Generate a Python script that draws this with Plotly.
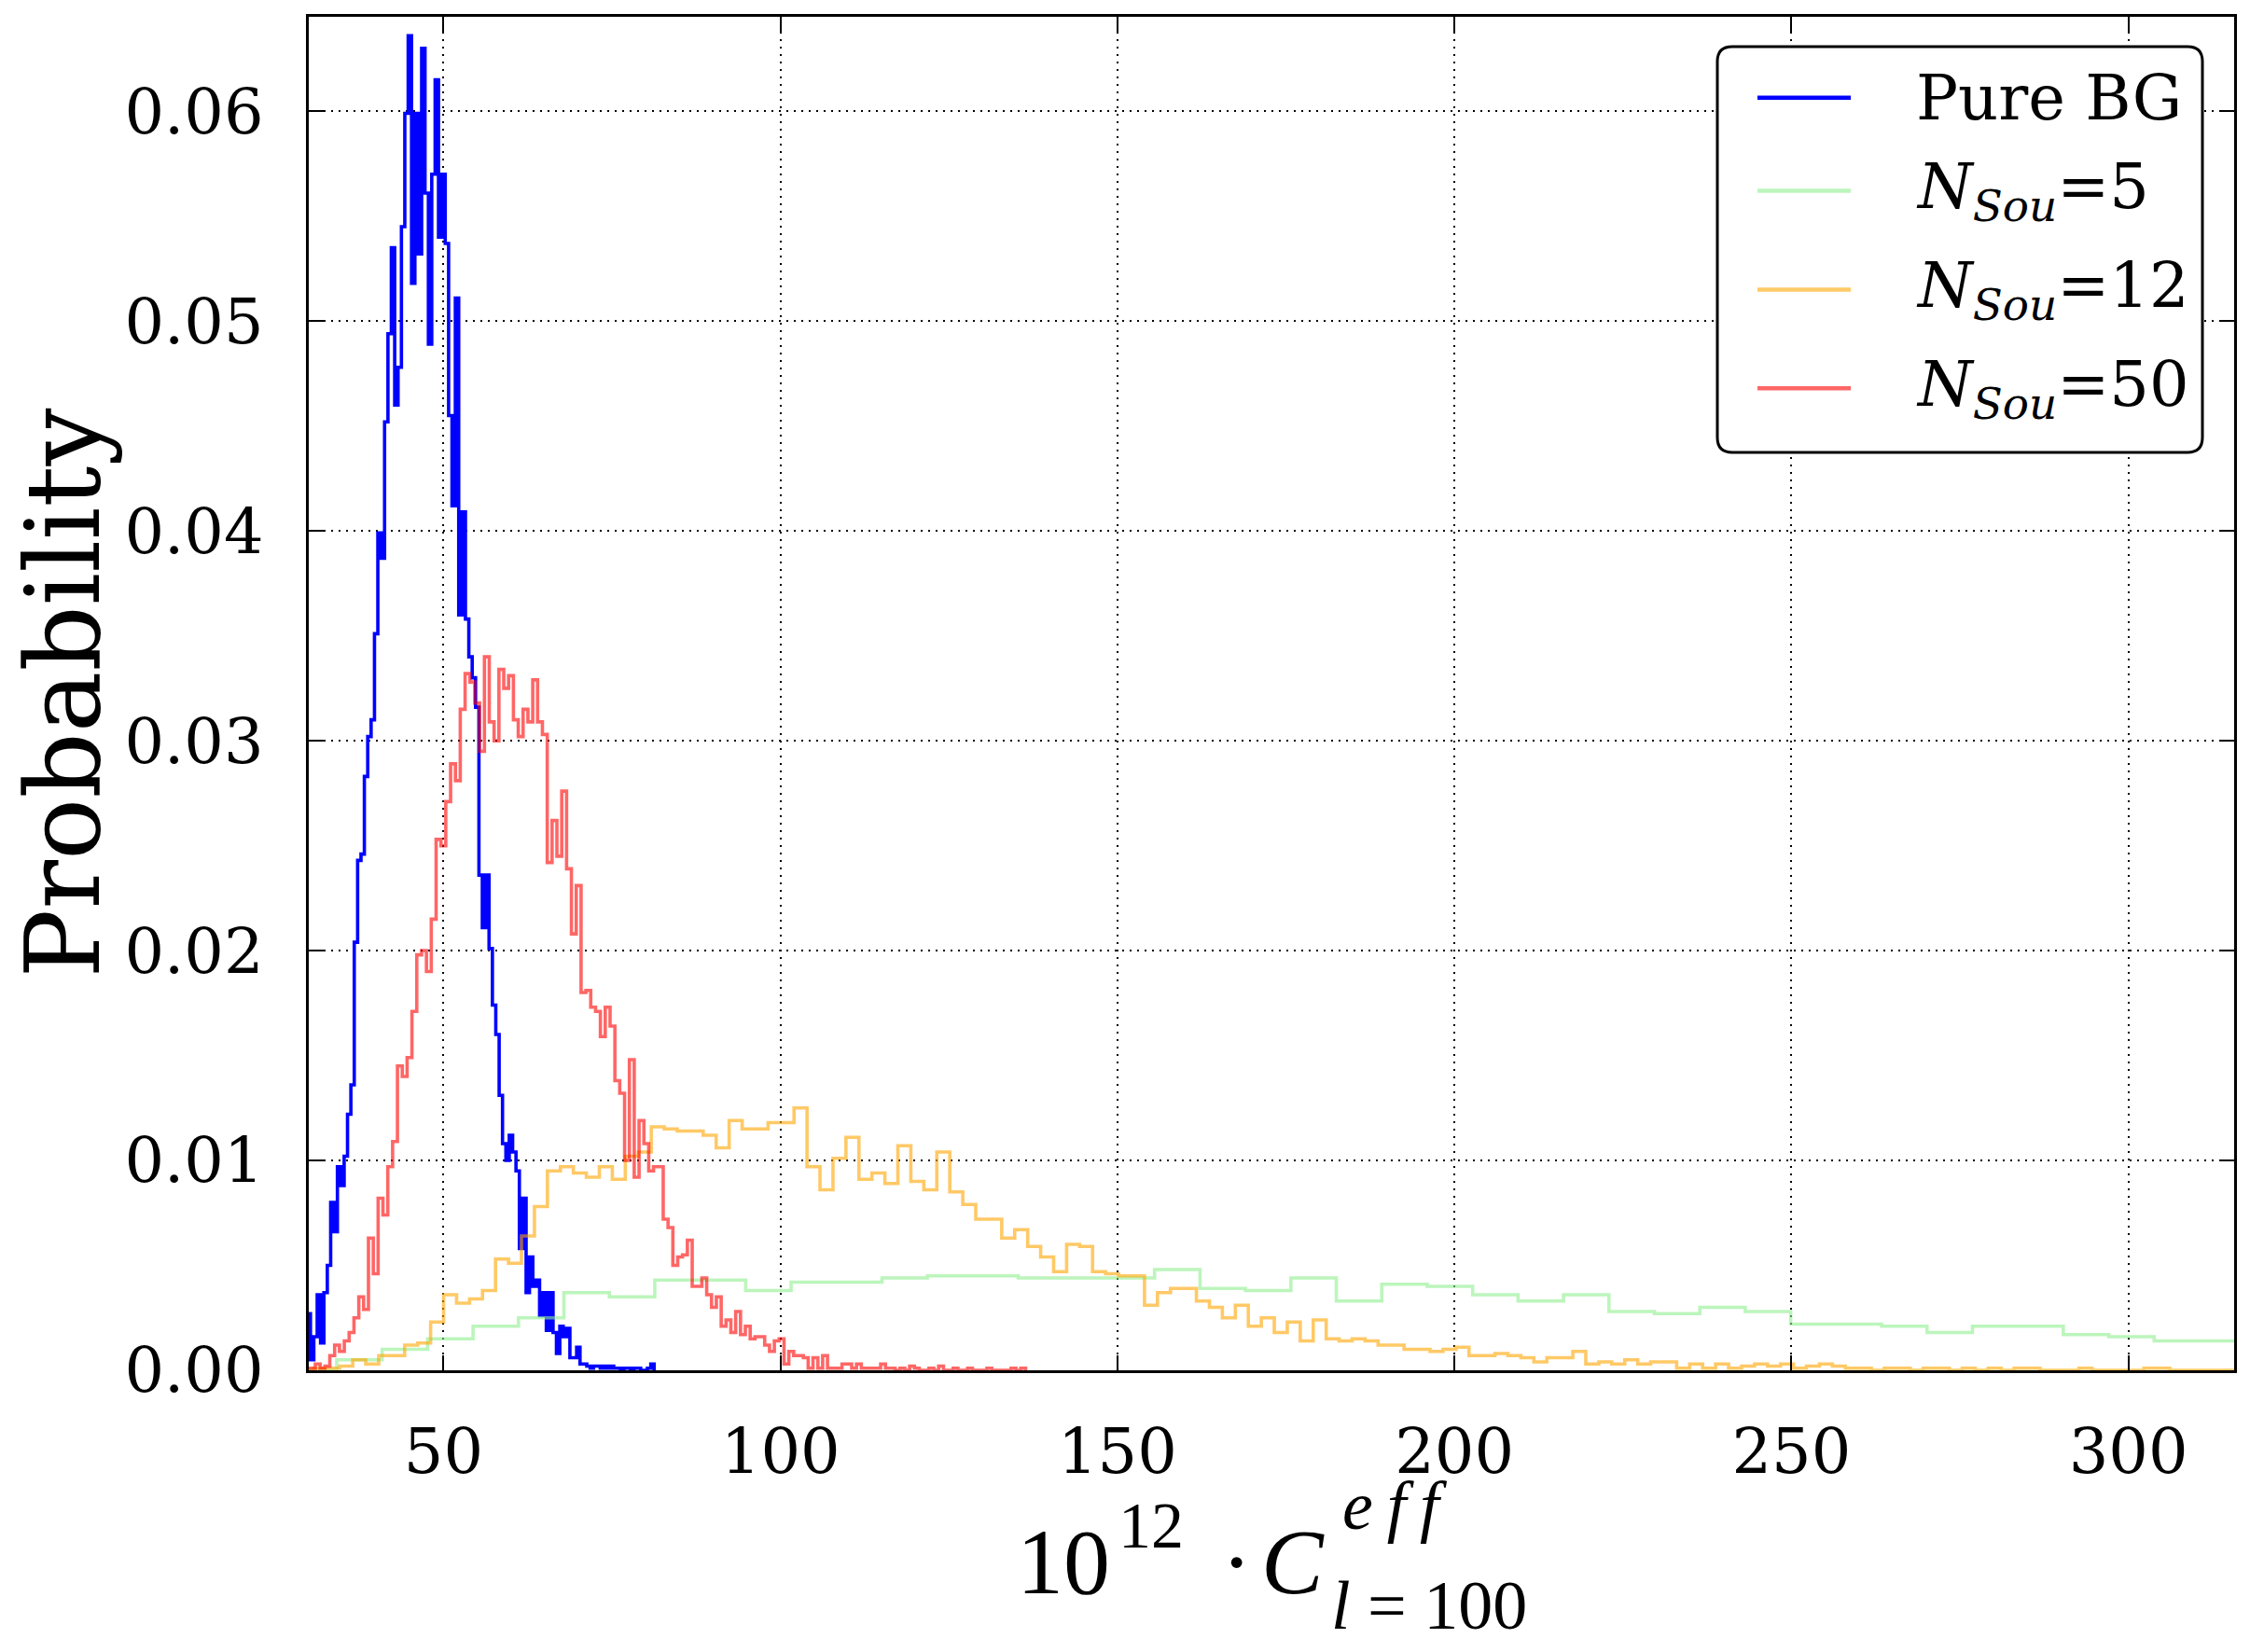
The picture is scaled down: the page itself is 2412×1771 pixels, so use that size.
"""
Histogramas (tipo step) de 10^12 * C_l=100 efectivo: fondo puro vs. distintos N_Sou.
"""

import numpy as np
import plotly.graph_objects as go

# ---------------------------------------------------------------------------
# Datos: probabilidad por bin, bins uniformes entre (primer borde, último borde)
# ---------------------------------------------------------------------------
BG_EDGES = (29.75, 81.25)
BG_PROB = [
    0.0027, 0.0005, 0.0016, 0.0036, 0.0013, 0.0037, 0.0050, 0.0080, 0.0066, 0.0097,
    0.0088, 0.0102, 0.0122, 0.0136, 0.0204, 0.0243, 0.0246, 0.0283, 0.0302, 0.0310,
    0.0351, 0.0399, 0.0387, 0.0452, 0.0494, 0.0535, 0.0460, 0.0478, 0.0545, 0.0599,
    0.0636, 0.0518, 0.0599, 0.0532, 0.0630, 0.0561, 0.0489, 0.0570, 0.0615, 0.0540,
    0.0570, 0.0537, 0.0455, 0.0412, 0.0511, 0.0360, 0.0409, 0.0358, 0.0340, 0.0330,
    0.0316, 0.0236, 0.0211, 0.0236, 0.0201, 0.0174, 0.0160, 0.0131, 0.0108, 0.0100,
    0.0112, 0.0104, 0.0095, 0.0058, 0.0082, 0.0037, 0.0054, 0.0040, 0.0043, 0.0026,
    0.0037, 0.0019, 0.0037, 0.0018, 0.0008, 0.0021, 0.0016, 0.0020, 0.0006, 0.0006,
    0.0011, 0.0003, 0.0003, 0.0002, 0.0001, 0.0002, 0.0002, 0.0001, 0.0002, 0.0001,
    0.0002, 0.0001, 0.0001, 0.0000, 0.0001, 0.0001, 0.0000, 0.0001, 0.0001, 0.0000,
    0.0000, 0.0001, 0.0003,
]

N5_EDGES = (27.41, 324.06)
N5_PROB = [
    0.0000, 0.0005, 0.0010, 0.0015, 0.0021, 0.0025, 0.0037, 0.0035, 0.0043, 0.0043,
    0.0038, 0.0042, 0.0042, 0.0044, 0.0045, 0.0045, 0.0044, 0.0044, 0.0044, 0.0048,
    0.0039, 0.0038, 0.0044, 0.0033, 0.0041, 0.0040, 0.0036, 0.0033, 0.0036, 0.0028,
    0.0027, 0.0030, 0.0028, 0.0022, 0.0022, 0.0021, 0.0018, 0.0021, 0.0021, 0.0017,
    0.0016, 0.0014, 0.0014, 0.0014,
]

N12_EDGES = (28.82, 317.72)
N12_PROB = [
    0.0000, 0.0001, 0.0001, 0.0002, 0.0005, 0.0003, 0.0007, 0.0007, 0.0012, 0.0013,
    0.0023, 0.0036, 0.0032, 0.0034, 0.0038, 0.0053, 0.0051, 0.0064, 0.0078, 0.0095,
    0.0097, 0.0094, 0.0092, 0.0097, 0.0091, 0.0102, 0.0104, 0.0116, 0.0115, 0.0114,
    0.0114, 0.0112, 0.0106, 0.0119, 0.0115, 0.0115, 0.0118, 0.0118, 0.0125, 0.0097,
    0.0086, 0.0101, 0.0111, 0.0091, 0.0094, 0.0089, 0.0107, 0.0090, 0.0086, 0.0104,
    0.0085, 0.0079, 0.0072, 0.0072, 0.0063, 0.0067, 0.0059, 0.0054, 0.0047, 0.0060,
    0.0059, 0.0047, 0.0046, 0.0045, 0.0045, 0.0031, 0.0037, 0.0039, 0.0039, 0.0033,
    0.0030, 0.0025, 0.0031, 0.0021, 0.0025, 0.0018, 0.0023, 0.0014, 0.0024, 0.0015,
    0.0014, 0.0015, 0.0014, 0.0012, 0.0012, 0.0010, 0.0010, 0.0009, 0.0010, 0.0011,
    0.0007, 0.0007, 0.0008, 0.0007, 0.0006, 0.0004, 0.0006, 0.0006, 0.0009, 0.0003,
    0.0004, 0.0003, 0.0005, 0.0003, 0.0004, 0.0004, 0.0001, 0.0003, 0.0001, 0.0003,
    0.0001, 0.0002, 0.0003, 0.0002, 0.0003, 0.0001, 0.0002, 0.0003, 0.0002, 0.0001,
    0.0001, 0.0000, 0.0001, 0.0001, 0.0000, 0.0001, 0.0001, 0.0000, 0.0001, 0.0000,
    0.0001, 0.0000, 0.0001, 0.0001, 0.0000, 0.0000, 0.0000, 0.0001, 0.0000, 0.0000,
    0.0000, 0.0000, 0.0001, 0.0001, 0.0000, 0.0000, 0.0000, 0.0000, 0.0000, 0.0000,
]

N50_EDGES = (28.82, 136.37)
N50_PROB = [
    0.0000, 0.0001, 0.0001, 0.0003, 0.0001, 0.0002, 0.0007, 0.0012, 0.0009, 0.0014,
    0.0018, 0.0025, 0.0035, 0.0029, 0.0063, 0.0046, 0.0082, 0.0074, 0.0097, 0.0109,
    0.0145, 0.0140, 0.0149, 0.0171, 0.0198, 0.0200, 0.0190, 0.0215, 0.0253, 0.0250,
    0.0271, 0.0289, 0.0281, 0.0315, 0.0332, 0.0328, 0.0318, 0.0295, 0.0340, 0.0309,
    0.0300, 0.0334, 0.0325, 0.0331, 0.0310, 0.0302, 0.0315, 0.0309, 0.0329, 0.0309,
    0.0303, 0.0242, 0.0262, 0.0245, 0.0276, 0.0239, 0.0208, 0.0231, 0.0180, 0.0181,
    0.0173, 0.0171, 0.0159, 0.0173, 0.0164, 0.0138, 0.0132, 0.0100, 0.0148, 0.0092,
    0.0119, 0.0108, 0.0095, 0.0097, 0.0097, 0.0072, 0.0068, 0.0050, 0.0054, 0.0055,
    0.0062, 0.0040, 0.0040, 0.0044, 0.0036, 0.0030, 0.0035, 0.0021, 0.0024, 0.0018,
    0.0028, 0.0017, 0.0021, 0.0015, 0.0016, 0.0016, 0.0012, 0.0009, 0.0014, 0.0015,
    0.0003, 0.0009, 0.0007, 0.0007, 0.0006, 0.0001, 0.0006, 0.0001, 0.0007, 0.0001,
    0.0001, 0.0001, 0.0003, 0.0003, 0.0001, 0.0003, 0.0001, 0.0001, 0.0001, 0.0001,
    0.0003, 0.0001, 0.0001, 0.0000, 0.0001, 0.0000, 0.0002, 0.0001, 0.0000, 0.0000,
    0.0001, 0.0000, 0.0002, 0.0000, 0.0000, 0.0001, 0.0000, 0.0000, 0.0001, 0.0000,
    0.0000, 0.0000, 0.0001, 0.0000, 0.0000, 0.0000, 0.0000, 0.0001, 0.0000, 0.0001,
]

SERIES_LABELS = [
    "Pure BG",
    "<i>N</i><sub><i>Sou</i></sub>=5",
    "<i>N</i><sub><i>Sou</i></sub>=12",
    "<i>N</i><sub><i>Sou</i></sub>=50",
]

X_TICKS = [50, 100, 150, 200, 250, 300]
Y_TICKS = [0.00, 0.01, 0.02, 0.03, 0.04, 0.05, 0.06]
X_RANGE = [30, 315.7]
Y_RANGE = [0, 0.0645]

# ---------------------------------------------------------------------------
# Estilo
# ---------------------------------------------------------------------------
COLORS = [
    "rgb(0,0,255)",
    "rgba(144,238,144,0.6)",
    "rgba(255,165,0,0.6)",
    "rgba(255,0,0,0.6)",
]
LINE_W = 3.6

W, H = 2412, 1771
# área de datos en pixeles de la página; la página mete 8 px de margen al body
PLOT_L, PLOT_R, PLOT_T, PLOT_B = 331, 2395, 15, 1469
BODY_OFFSET = 8

SERIF = "DejaVu Serif"
MATH = "Liberation Serif"


def px(x):
    """Pixel horizontal -> coordenada paper."""
    return (x - PLOT_L) / (PLOT_R - PLOT_L)


def py(y):
    """Pixel vertical -> coordenada paper."""
    return (PLOT_B - y) / (PLOT_B - PLOT_T)


def step_xy(edges, probs):
    """Contorno tipo histtype='step' a partir de bordes y alturas."""
    e = np.linspace(edges[0], edges[1], len(probs) + 1)
    x = np.concatenate([[e[0]], e])
    y = np.concatenate([[0.0], np.asarray(probs, dtype=float), [0.0]])
    return x, y


def rounded_box(x0, y0, x1, y1, r):
    """Path SVG (en coords paper) de un rectángulo con esquinas redondeadas."""
    pts = [
        ("M", (x0 + r, y0)),
        ("L", (x1 - r, y0)), ("Q", (x1, y0), (x1, y0 + r)),
        ("L", (x1, y1 - r)), ("Q", (x1, y1), (x1 - r, y1)),
        ("L", (x0 + r, y1)), ("Q", (x0, y1), (x0, y1 - r)),
        ("L", (x0, y0 + r)), ("Q", (x0, y0), (x0 + r, y0)),
    ]
    out = []
    for cmd, *coords in pts:
        out.append(cmd + " " + " ".join(f"{px(a):.5f},{py(b):.5f}" for a, b in coords))
    return " ".join(out) + " Z"


fig = go.Figure()

for (edges, probs), color, label in zip(
    [(BG_EDGES, BG_PROB), (N5_EDGES, N5_PROB), (N12_EDGES, N12_PROB), (N50_EDGES, N50_PROB)],
    COLORS,
    SERIES_LABELS,
):
    x, y = step_xy(edges, probs)
    fig.add_trace(go.Scatter(
        x=x, y=y,
        mode="lines",
        line=dict(color=color, width=LINE_W, shape="hv"),
        name=label,
        hoverinfo="skip",
    ))

axis_common = dict(
    showline=True, linecolor="black", linewidth=3, mirror="allticks",
    ticks="inside", ticklen=16, tickwidth=2, tickcolor="black",
    showgrid=True, gridcolor="black", gridwidth=1.6, griddash="2px,6px",
    zeroline=False,
    tickfont=dict(family=SERIF, size=67, color="black"),
)

fig.update_xaxes(range=X_RANGE, tickvals=X_TICKS, ticklabelstandoff=27, **axis_common)
fig.update_yaxes(range=Y_RANGE, tickvals=Y_TICKS, tickformat=".2f", ticklabelstandoff=32, **axis_common)

# --- leyenda dibujada a mano (muestras largas y caja redondeada como en el original) ---
shapes = [dict(
    type="path", xref="paper", yref="paper", layer="above",
    path=rounded_box(1841, 47, 2361, 483, 16),
    fillcolor="white", line=dict(color="black", width=3),
)]
annotations = []
legend_rows = [102, 202, 308, 414]
for row_y, color, label in zip(legend_rows, COLORS, SERIES_LABELS):
    shapes.append(dict(
        type="line", xref="paper", yref="paper", layer="above",
        x0=px(1884), x1=px(1984), y0=py(row_y), y1=py(row_y),
        line=dict(color=color, width=4.5),
    ))
    annotations.append(dict(
        text=label, xref="paper", yref="paper", x=px(2052), y=py(row_y),
        xanchor="left", yanchor="middle", showarrow=False,
        font=dict(family=SERIF, size=67, color="black"),
    ))

# --- títulos de ejes ---
annotations.append(dict(
    text="Probability", xref="paper", yref="paper", x=px(67), y=0.5,
    xanchor="center", yanchor="middle", textangle=-90, showarrow=False,
    borderpad=0,
    font=dict(family=SERIF, size=110, color="black"),
))
xlabel_parts = [
    ("10", 1089, 1675, 100),
    ("12", 1198, 1636, 70),
    ("\u00b7", 1308, 1675, 100),
    ("<i>C</i>", 1351, 1675, 100),
    ("<i>e\u2009f\u2009f</i>", 1438, 1614, 74),
    ("<i>l</i> = 100", 1426, 1722, 74),
]
for text, x_px, y_px, size in xlabel_parts:
    annotations.append(dict(
        text=text, xref="paper", yref="paper", x=px(x_px), y=py(y_px),
        xanchor="left", yanchor="middle", showarrow=False, borderpad=0,
        font=dict(family=MATH, size=size, color="black"),
    ))

fig.update_layout(
    width=W, height=H,
    margin=dict(
        l=PLOT_L - BODY_OFFSET, r=W - PLOT_R + BODY_OFFSET,
        t=PLOT_T - BODY_OFFSET, b=H - PLOT_B + BODY_OFFSET,
    ),
    plot_bgcolor="white", paper_bgcolor="white",
    showlegend=False,
    shapes=shapes,
    annotations=annotations,
)

fig.write_html("out.html")
